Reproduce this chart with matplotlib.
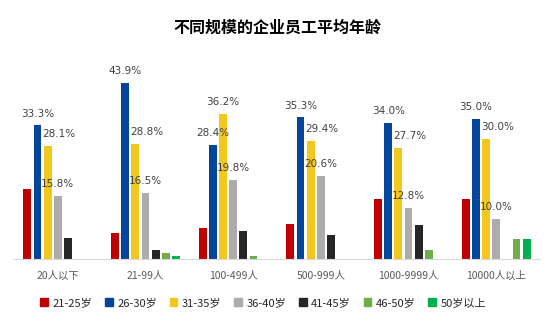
import numpy as np
import matplotlib
matplotlib.use("Agg")
import matplotlib.pyplot as plt
from matplotlib.patches import Patch

plt.rcParams['font.family'] = ['Noto Sans CJK SC', 'DejaVu Sans']

# 数据
categories = ['20人以下', '21-99人', '100-499人', '500-999人', '1000-9999人', '10000人以上']
series_names = ['21-25岁', '26-30岁', '31-35岁', '36-40岁', '41-45岁', '46-50岁', '50岁以上']
age_21_25 = [17.5, 6.4, 7.8, 8.7, 15.0, 15.0]
age_26_30 = [33.3, 43.9, 28.4, 35.3, 34.0, 35.0]
age_31_35 = [28.1, 28.8, 36.2, 29.4, 27.7, 30.0]
age_36_40 = [15.8, 16.5, 19.8, 20.6, 12.8, 10.0]
age_41_45 = [5.2, 2.2, 7.1, 6.0, 8.5, 0.0]
age_46_50 = [0.0, 1.5, 0.7, 0.0, 2.2, 5.0]
age_50_up = [0.0, 0.7, 0.0, 0.0, 0.0, 5.0]
colors = ['#C00000', '#03459A', '#F3C71E', '#AFABAB', '#262626', '#70AD47', '#00B050']

all_series = [age_21_25, age_26_30, age_31_35, age_36_40, age_41_45, age_46_50, age_50_up]
labeled = [1, 2, 3]  # 只标注 26-30, 31-35, 36-40

fig = plt.figure(figsize=(5.54, 3.23), dpi=100)
ax = fig.add_axes([14 / 554, 64 / 323, 526 / 554, 200.5 / 323])

x = np.arange(len(categories))
pitch = 0.116
width = 0.091
for i, (vals, c) in enumerate(zip(all_series, colors)):
    pos = x + (i - 3) * pitch
    ax.bar(pos, vals, width=width, color=c, label=series_names[i])
    if i in labeled:
        for j, v in enumerate(vals):
            dx = 0
            # Excel 的标签避让：黄色标签在蓝色更高时右移
            if i == 2 and age_26_30[j] > v:
                dx = 8
            ax.annotate('%.1f%%' % v, (pos[j], v), xytext=(dx, 5), textcoords='offset points',
                        ha='center', va='bottom', fontsize=7.5, color='#404040',
                        family=['DejaVu Sans'])

ax.set_xlim(-0.5, 5.5)
ax.set_ylim(0, 50)
ax.set_xticks(x)
ax.set_xticklabels(categories, fontsize=7.5, color='#595959')
ax.tick_params(axis='x', length=0, pad=8)
ax.set_yticks([])
for s in ['top', 'right', 'left']:
    ax.spines[s].set_visible(False)
ax.spines['bottom'].set_color('#D9D9D9')

fig.text(0.5, 0.915, '不同规模的企业员工平均年龄', ha='center', va='center',
         fontsize=11.5, fontweight='bold', color='#000000')

handles = [Patch(color=c) for c in colors]
fig.legend(handles, series_names, loc='center', bbox_to_anchor=(0.475, 0.062), ncol=7,
           frameon=False, fontsize=8, handlelength=0.7, handleheight=0.7,
           handletextpad=0.4, columnspacing=1.15, labelcolor='#262626')

fig.savefig('out.png', dpi=100)
